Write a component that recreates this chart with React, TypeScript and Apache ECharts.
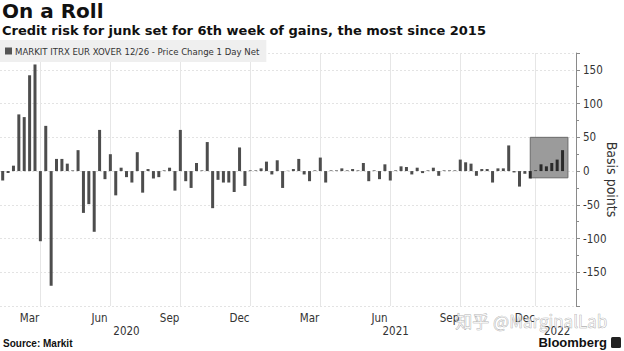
import React, { useEffect, useRef } from "react";
import * as echarts from "echarts";

const titleText = "On a Roll";
const subtitleText = "Credit risk for junk set for 6th week of gains, the most since 2015";
const seriesName = "MARKIT ITRX EUR XOVER 12/26 - Price Change 1 Day Net";
const sourceText = "Source: Markit";
const brandText = "Bloomberg";
const watermarkText = "知乎 @MarginalLab";

// weekly change in basis points
const weeklyChange: (number | null)[] = [
  -14, -3, 8, 84, 80, 142, 158, -104, 67, -170,
  18, 18, 11, 1, 31, -62, -49, -90, 61, -12,
  25, -36, 5, -9, -17, 28, -32, 3, -11, -9,
  1, 5, -29, 61, -15, -25, 12, 1, 43, -55,
  -13, -17, -17, -31, 35, -22, 1, 1, 4, 14,
  -5, 16, -25, 0.5, 3, 18, -5, -15, 1, 20,
  -17, 1, 1, 4, 1, 3, 1, 12, -15, 1,
  -12, 10, -14, 1, 7, 6, -5, 5, -3, 1,
  5, -7, 1, 1, 1, 17, 13, 11, -7, 3,
  3, -17, 4, 4, 38, -2, -23, -4, -11, 1,
  10, 7, 12, 17, 31, null, null,
];

// weekly categories (axis runs a little past the last observation)
const categoryCount = 107;
const categories: string[] = (() => {
  const out: string[] = [];
  const start = Date.UTC(2020, 1, 7);
  for (let i = 0; i < categoryCount; i++) {
    out.push(new Date(start + i * 7 * 86400000).toISOString().slice(0, 10));
  }
  return out;
})();

const monthLabelIndex = [5, 18, 31, 44, 57, 70, 83, 97];
const monthLabels = ["Mar", "Jun", "Sep", "Dec", "Mar", "Jun", "Sep", "Dec"];
const yearLabelIndex = [23, 73, 103];
const yearLabels = ["2020", "2021", "2022"];
const quarterGridIndex = [7, 20, 33, 46, 59, 72, 85, 99];

const yMin = -200;
const yMax = 175;
const yInterval = 50;

// highlighted box: [start category, end category, top value, bottom value]
const highlightBox = [98, 105, 50, -10];

const axisFont = "'DejaVu Sans Condensed', 'DejaVu Sans', sans-serif";
const titleFont = "'DejaVu Sans', sans-serif";
const boldFont = "'Liberation Sans', Arial, sans-serif";

export default function App() {
  const ref = useRef<HTMLDivElement>(null);

  useEffect(() => {
    if (!ref.current) return;
    const chart = echarts.init(ref.current, undefined, { renderer: "svg" });
    const option: any = {
      animation: false,
      backgroundColor: "#ffffff",
      title: [
        {
          text: titleText,
          left: 2,
          top: 1,
          padding: 0,
          textStyle: { fontFamily: titleFont, fontWeight: "bold", fontSize: 20, color: "#111" },
        },
        {
          text: subtitleText,
          left: 2,
          top: 24,
          padding: 0,
          textStyle: { fontFamily: titleFont, fontWeight: "bold", fontSize: 13, color: "#111" },
        },
      ],
      legend: {
        data: [seriesName],
        left: 0,
        top: 40,
        padding: [6, 7, 6, 5],
        backgroundColor: "#efefef",
        icon: "rect",
        itemWidth: 7,
        itemHeight: 7,
        itemGap: 4,
        itemStyle: { color: "#555" },
        textStyle: { fontFamily: axisFont, fontSize: 9.5, color: "#333", padding: [0, 0, 0, -2] },
      },
      grid: {
        left: 0,
        right: 48,
        top: 53,
        bottom: 45,
        containLabel: false,
        outerBoundsMode: "none",
      },
      xAxis: [
        {
          type: "category",
          data: categories,
          position: "bottom",
          boundaryGap: true,
          axisLine: { show: false },
          axisTick: { show: false },
          axisLabel: {
            interval: (i: number) => monthLabelIndex.includes(i),
            formatter: (_v: string, i: number) => {
              const k = monthLabelIndex.indexOf(i);
              return k >= 0 ? monthLabels[k] : "";
            },
            margin: 6,
            color: "#333",
            fontSize: 11.5,
            fontFamily: axisFont,
          },
          splitLine: {
            show: true,
            interval: (i: number) => quarterGridIndex.includes(i),
            alignWithLabel: true,
            lineStyle: { color: "#e6e6e6", width: 1 },
          },
        },
        {
          type: "category",
          data: categories,
          position: "bottom",
          offset: 13,
          boundaryGap: true,
          axisLine: { show: false },
          axisTick: { show: false },
          axisLabel: {
            interval: (i: number) => yearLabelIndex.includes(i),
            formatter: (_v: string, i: number) => {
              const k = yearLabelIndex.indexOf(i);
              return k >= 0 ? yearLabels[k] : "";
            },
            margin: 6,
            color: "#333",
            fontSize: 11.5,
            fontFamily: axisFont,
          },
          splitLine: { show: false },
        },
      ],
      yAxis: {
        type: "value",
        position: "right",
        min: yMin,
        max: yMax,
        interval: yInterval,
        axisLine: { show: true, lineStyle: { color: "#8a8a8a", width: 1 } },
        axisTick: { show: true, inside: false, length: 4, lineStyle: { color: "#8a8a8a" } },
        minorTick: { show: true, splitNumber: 2, length: 3, lineStyle: { color: "#8a8a8a" } },
        axisLabel: {
          showMinLabel: false,
          showMaxLabel: false,
          margin: 7,
          color: "#333",
          fontSize: 11.5,
          fontFamily: axisFont,
        },
        splitLine: { show: true, lineStyle: { color: "#e3e3e3", type: [2, 2] } },
        name: "Basis points",
        nameLocation: "middle",
        nameRotate: -90,
        nameGap: 29,
        nameMoveOverlap: false,
        nameTextStyle: { fontSize: 14, color: "#333", fontFamily: axisFont },
      },
      series: [
        {
          name: "highlight",
          type: "custom",
          xAxisIndex: 0,
          yAxisIndex: 0,
          z: 1,
          silent: true,
          encode: { x: [0, 1], y: [2, 3] },
          data: [highlightBox],
          renderItem: (_params: any, api: any) => {
            const p1 = api.coord([api.value(0), api.value(2)]);
            const p2 = api.coord([api.value(1), api.value(3)]);
            return {
              type: "rect",
              shape: { x: p1[0], y: p1[1], width: p2[0] - p1[0], height: p2[1] - p1[1] },
              style: { fill: "#9b9b9b", stroke: "#6a6a6a", lineWidth: 1 },
            };
          },
        },
        {
          name: seriesName,
          type: "bar",
          xAxisIndex: 0,
          z: 2,
          data: weeklyChange,
          barWidth: 3,
          itemStyle: {
            color: (p: any) => (p.dataIndex >= highlightBox[0] ? "#2a2a2a" : "#4d4d4d"),
          },
        },
      ],
      graphic: [
        {
          type: "text",
          left: 3,
          top: 338,
          style: { text: sourceText, font: `bold 10px ${boldFont}`, fill: "#111" },
        },
        {
          type: "text",
          right: 17,
          top: 336,
          style: { text: brandText, font: `bold 13px ${boldFont}`, fill: "#111" },
        },
        {
          type: "rect",
          shape: { x: 611, y: 337, width: 10, height: 11, r: 1.5 },
          style: { fill: "#222" },
        },
        {
          type: "text",
          left: 455,
          top: 312,
          z: 100,
          style: {
            text: watermarkText,
            font: `17px 'Noto Sans CJK SC', sans-serif`,
            fill: "rgba(255,255,255,0.55)",
            stroke: "rgba(120,120,120,0.7)",
            lineWidth: 0.6,
          },
        },
      ],
    };
    chart.setOption(option);
    return () => chart.dispose();
  }, []);

  return (
    <div
      ref={ref}
      style={{ position: "fixed", left: 0, top: 0, width: 624, height: 351, background: "#fff" }}
    />
  );
}
